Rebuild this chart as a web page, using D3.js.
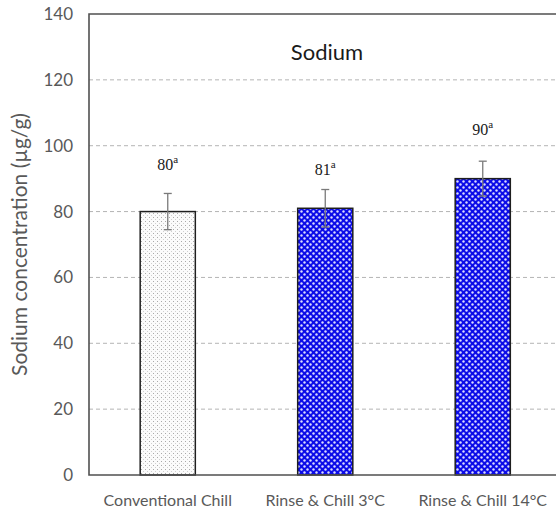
<!DOCTYPE html>
<html>
<head>
<meta charset="utf-8">
<script src="https://cdn.jsdelivr.net/npm/d3@7"></script>
<style>
  body { margin: 0; background: #fff; }
  svg { display: block; }
</style>
</head>
<body>
<div id="chart"></div>
<script>
// values
var categories = ["Conventional Chill", "Rinse & Chill 3°C", "Rinse & Chill 14°C"];
var means = [80, 81, 90];
var errs = [5.5, 5.7, 5.3];
var letters = ["a", "a", "a"];
var labelLevels = [94.5, 93, 105];   // where the value labels sit, in axis units
var fills = ["dots", "blue", "blue"];
var yTicks = [0, 20, 40, 60, 80, 100, 120, 140];

var W = 556, H = 510;
var margin = {top: 14, left: 89, bottom: 35};
var plotW = 472.5;  // right edge falls outside the window
var sans = 'Lato, "Open Sans", sans-serif';

var svg = d3.select('#chart').append('svg')
  .attr('width', W)
  .attr('height', H);

var defs = svg.append('defs');
// light gray dotted pattern
var p1 = defs.append('pattern')
  .attr('id', 'dots')
  .attr('patternUnits', 'userSpaceOnUse')
  .attr('width', 4).attr('height', 4);
p1.append('rect').attr('width', 4).attr('height', 4).attr('fill', '#fbfbfb');
p1.append('rect').attr('x', 1).attr('y', 1).attr('width', 1).attr('height', 1).attr('fill', '#a9a9a9');
p1.append('rect').attr('x', 3).attr('y', 3).attr('width', 1).attr('height', 1).attr('fill', '#d0d0d0');

// blue with white dots
var p2 = defs.append('pattern')
  .attr('id', 'blue')
  .attr('patternUnits', 'userSpaceOnUse')
  .attr('width', 6).attr('height', 6);
p2.append('rect').attr('width', 6).attr('height', 6).attr('fill', '#0c0ce8');
p2.append('circle').attr('cx', 1.5).attr('cy', 1.5).attr('r', 1.2).attr('fill', '#dcdcff');
p2.append('circle').attr('cx', 4.5).attr('cy', 4.5).attr('r', 1.2).attr('fill', '#dcdcff');

var y = d3.scaleLinear()
  .domain([0, 140])
  .range([H - margin.bottom, margin.top]);

var x = d3.scaleBand()
  .domain(categories)
  .range([margin.left, margin.left + plotW])
  .paddingInner(0.65)
  .paddingOuter(0.325);

var g = svg.append('g');

// dashed gridlines
g.selectAll('.grid')
  .data(yTicks.filter(function(d) { return d > 0 && d < 140; }))
  .enter().append('line')
  .attr('x1', margin.left)
  .attr('x2', margin.left + plotW)
  .attr('y1', function(d) { return y(d); })
  .attr('y2', function(d) { return y(d); })
  .attr('stroke', '#b4b4b4')
  .attr('stroke-width', 1)
  .attr('stroke-dasharray', '4,3');

// y axis labels
var yAxis = d3.axisLeft(y).tickValues(yTicks).tickSize(0).tickPadding(16);
var ya = svg.append('g')
  .attr('transform', 'translate(' + margin.left + ',0)')
  .call(yAxis);
ya.select('.domain').remove();
ya.selectAll('text')
  .attr('fill', '#595959')
  .style('font-family', sans)
  .style('font-size', '17px');

// bars
g.selectAll('.bar')
  .data(categories)
  .enter().append('rect')
  .attr('x', function(d) { return x(d); })
  .attr('y', function(d, i) { return y(means[i]); })
  .attr('width', x.bandwidth())
  .attr('height', function(d, i) { return y(0) - y(means[i]); })
  .attr('fill', function(d, i) { return 'url(#' + fills[i] + ')'; })
  .attr('stroke', '#1e1e1e')
  .attr('stroke-width', 1.5);

// error bars
var eb = g.selectAll('.err')
  .data(categories)
  .enter().append('g')
  .attr('stroke', '#7a7a7a')
  .attr('stroke-width', 1.3);
eb.append('line')
  .attr('x1', function(d) { return x(d) + x.bandwidth() / 2; })
  .attr('x2', function(d) { return x(d) + x.bandwidth() / 2; })
  .attr('y1', function(d, i) { return y(means[i] - errs[i]); })
  .attr('y2', function(d, i) { return y(means[i] + errs[i]); });
[-1, 1].forEach(function(s) {
  eb.append('line')
    .attr('x1', function(d) { return x(d) + x.bandwidth() / 2 - 4; })
    .attr('x2', function(d) { return x(d) + x.bandwidth() / 2 + 4; })
    .attr('y1', function(d, i) { return y(means[i] + s * errs[i]); })
    .attr('y2', function(d, i) { return y(means[i] + s * errs[i]); });
});

// value labels
var lab = g.selectAll('.lab')
  .data(categories)
  .enter().append('text')
  .attr('x', function(d) { return x(d) + x.bandwidth() / 2; })
  .attr('y', function(d, i) { return y(labelLevels[i]) + 6; })
  .attr('text-anchor', 'middle')
  .attr('fill', '#1a1a1a')
  .style('font-family', '"Liberation Serif", "DejaVu Serif", serif')
  .style('font-size', '16px');
lab.append('tspan').text(function(d, i) { return means[i]; });
lab.append('tspan')
  .attr('dy', -7)
  .style('font-size', '11px')
  .text(function(d, i) { return letters[i]; });

// frame: left, top, bottom
svg.append('path')
  .attr('d', 'M' + (margin.left + plotW) + ',' + y(140) + 'H' + margin.left + 'V' + y(0) + 'H' + (margin.left + plotW))
  .attr('fill', 'none')
  .attr('stroke', '#505050')
  .attr('stroke-width', 1.6);

// category labels
svg.selectAll('.cat')
  .data(categories)
  .enter().append('text')
  .attr('x', function(d) { return x(d) + x.bandwidth() / 2; })
  .attr('y', y(0) + 31)
  .attr('text-anchor', 'middle')
  .attr('fill', '#595959')
  .style('font-family', sans)
  .style('font-size', '16px')
  .text(function(d) { return d; });

// title
svg.append('text')
  .attr('x', 327)
  .attr('y', 60)
  .attr('text-anchor', 'middle')
  .attr('fill', '#1a1a1a')
  .style('font-family', sans)
  .style('font-size', '22px')
  .text('Sodium');

// y axis title
svg.append('text')
  .attr('transform', 'translate(27,' + y(70) + ') rotate(-90)')
  .attr('text-anchor', 'middle')
  .attr('fill', '#595959')
  .style('font-family', sans)
  .style('font-size', '21px')
  .text('Sodium concentration (µg/g)');
</script>
</body>
</html>
